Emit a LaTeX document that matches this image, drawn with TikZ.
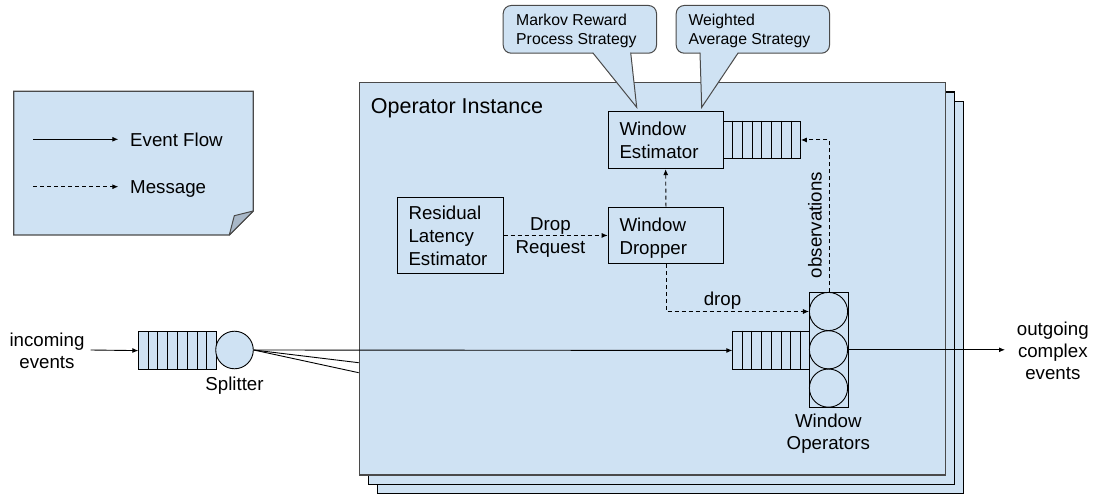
\documentclass[tikz,border=0pt]{standalone}
\usepackage{fontspec}
\setmainfont{Liberation Sans}
\usetikzlibrary{arrows.meta,calc}
\definecolor{paneblue}{HTML}{CFE2F3}
\definecolor{edgegrey}{HTML}{4A4A4A}
\definecolor{foldgrey}{HTML}{A9B8C8}

\begin{document}
\begin{tikzpicture}[x=1pt,y=-1pt,
  lbl/.style={inner sep=0pt, font=\fontsize{18.7}{23}\selectfont},
  lblt/.style={inner sep=0pt, font=\fontsize{18.7}{22}\selectfont},
  small/.style={inner sep=0pt, font=\fontsize{15.8}{18.6}\selectfont},
  big/.style={inner sep=0pt, font=\fontsize{21.5}{26}\selectfont},
  flow/.style={line width=0.9pt, -{Latex[length=6pt,width=5pt]}},
  msg/.style={flow, dash pattern=on 4pt off 3pt},
  box/.style={draw, line width=0.9pt, fill=paneblue, inner sep=0pt, anchor=north west},
  ring/.style={draw, circle, line width=0.9pt, inner sep=0pt, minimum size=38.2pt},
  layer/.style={draw, line width=1.3pt, fill=paneblue, inner sep=0pt, anchor=north west,
                minimum width=586pt, minimum height=392.4pt},
  callout/.style={draw=edgegrey, line width=1pt, fill=paneblue, rounded corners=8pt,
                  inner sep=0pt, anchor=north west, minimum width=153.3pt, minimum height=47.7pt},
  tail/.style={draw=edgegrey, line width=1pt, line join=miter}
]
\useasboundingbox (0,0) rectangle (1099,494);

% ---- legend note with folded corner ----
\draw[edgegrey, line width=1.2pt, fill=paneblue]
  (13.7,91.3) -- (253.3,91.3) -- (253.3,211) -- (229.3,235) -- (13.7,235) -- cycle;
\draw[edgegrey, line width=1pt, fill=foldgrey, line join=round]
  (229.3,235) -- (234.3,215.7) -- (253.3,211) -- cycle;
\coordinate (lgA0) at (33.3,139.3);
\coordinate (lgA1) at (118.3,139.3);
\coordinate (lgB0) at (33.3,186.7);
\coordinate (lgB1) at (118.3,186.7);
\draw[flow] (lgA0) -- (lgA1);
\draw[msg] (lgB0) -- (lgB1);
\node[lbl, anchor=base west] (lgAt) at (130,146.7) {Event Flow};
\node[lbl, anchor=base west] (lgBt) at (130,194) {Message};

% ---- stacked operator instances ----
\node[layer] (inst3) at (376.7,101) {};
\node[layer] (inst2) at (367.7,91.3) {};
\node[layer, draw=edgegrey, line width=1.5pt] (inst) at (358.7,82) {};
\node[big, anchor=base west] (instt) at (370.7,113.7) {Operator Instance};

% ---- strategy callouts ----
\node[callout] (mrp) at (502.7,5) {};
\fill[paneblue] (592.7,52.7) -- (636.7,107.3) -- (630.7,52.7) -- (630.7,49) -- (592.7,49) -- cycle;
\draw[tail] (592.7,52.7) -- (636.7,107.3) -- (630.7,52.7);
% multi-line labels are anchored on the baseline of their last line
\node[small, anchor=base west, align=left] (mrpt) at (516,44.3) {Markov Reward\\Process Strategy};

\node[callout] (was) at (675.7,5) {};
\fill[paneblue] (700,52.7) -- (701.7,107.3) -- (738.3,52.7) -- (738.3,49) -- (700,49) -- cycle;
\draw[tail] (700,52.7) -- (701.7,107.3) -- (738.3,52.7);
\node[small, anchor=base west, align=left] (wast) at (688.3,44.3) {Weighted\\Average Strategy};

% ---- components ----
\node[box, minimum width=115pt, minimum height=57.6pt] (est) at (607.7,110.7) {};
\node[lbl, anchor=base west, align=left] (estt) at (619.3,158.3) {Window\\Estimator};
\node[box, minimum width=77.3pt, minimum height=37.6pt] (estq) at (722.7,120.7) {};
\foreach \i in {1,...,7}
  \draw[line width=0.9pt] ($(estq.north west)!\i/8!(estq.north east)$) -- ($(estq.south west)!\i/8!(estq.south east)$);

\node[box, minimum width=115.6pt, minimum height=56.6pt] (drp) at (607.7,206.7) {};
\node[lbl, anchor=base west, align=left] (drpt) at (619.3,254.5) {Window\\Dropper};

\node[box, minimum width=105.7pt, minimum height=76.6pt] (rle) at (397,196.7) {};
\node[lbl, anchor=base west, align=left] (rlet) at (408.3,265) {Residual\\Latency\\Estimator};

% window operators: queue + column of three operators
\node[box, minimum width=77pt, minimum height=38.6pt] (opq) at (732.3,330.7) {};
\foreach \i in {1,...,7}
  \draw[line width=0.9pt] ($(opq.north west)!\i/8!(opq.north east)$) -- ($(opq.south west)!\i/8!(opq.south east)$);
\node[box, minimum width=38.4pt, minimum height=115pt] (ops) at (809.3,292.3) {};
\node[ring] (op1) at (828.5,311.5) {};
\node[ring] (op2) at (828.5,349.8) {};
\node[ring] (op3) at (828.5,388.1) {};
\node[lblt, align=center, anchor=base] (opst) at (828.3,449.5) {Window\\Operators};

% splitter
\node[box, minimum width=77.4pt, minimum height=38.3pt] (spq) at (138.3,331) {};
\foreach \i in {1,...,7}
  \draw[line width=0.9pt] ($(spq.north west)!\i/8!(spq.north east)$) -- ($(spq.south west)!\i/8!(spq.south east)$);
\node[ring, fill=paneblue, minimum size=37.6pt] (spl) at (234.5,350) {};
\node[lbl, anchor=base] (splt) at (234.5,390.7) {Splitter};

% ---- event flow ----
\coordinate (inc) at (90.7,350);
\coordinate (outc) at (1005,349.8);
\coordinate (fan2) at (358.7,362.7);
\coordinate (fan3) at (358.7,372.7);
\draw[flow] (inc) -- (spq.west);
\draw[flow] (spl.east) -- (opq.west);
\draw[line width=0.9pt] (spl.east) -- (fan2);
\draw[line width=0.9pt] (spl.east) -- (fan3);
\draw[flow] (ops.east |- op2.east) -- (outc);
\node[lblt, align=center, anchor=base] (inct) at (47,368.5) {incoming\\events};
\node[lblt, align=center, anchor=base] (outt) at (1052.8,379) {outgoing\\complex\\events};

% ---- messages ----
\draw[msg] (rle.east) -- (drp.west);
\node[lbl, anchor=base] (rqt1) at (550.5,230.7) {Drop};
\node[lbl, anchor=base] (rqt2) at (550.5,254) {Request};
\draw[msg] (drp.north) -- (est.south);
\draw[msg] (drp.south) |- (op1.west);
\node[lbl, anchor=base] (dropt) at (722.5,305) {drop};
\draw[msg] (ops.north) |- (estq.east);
\node[lbl, anchor=base, rotate=90] (obst) at (821.7,225) {observations};
\end{tikzpicture}
\end{document}
